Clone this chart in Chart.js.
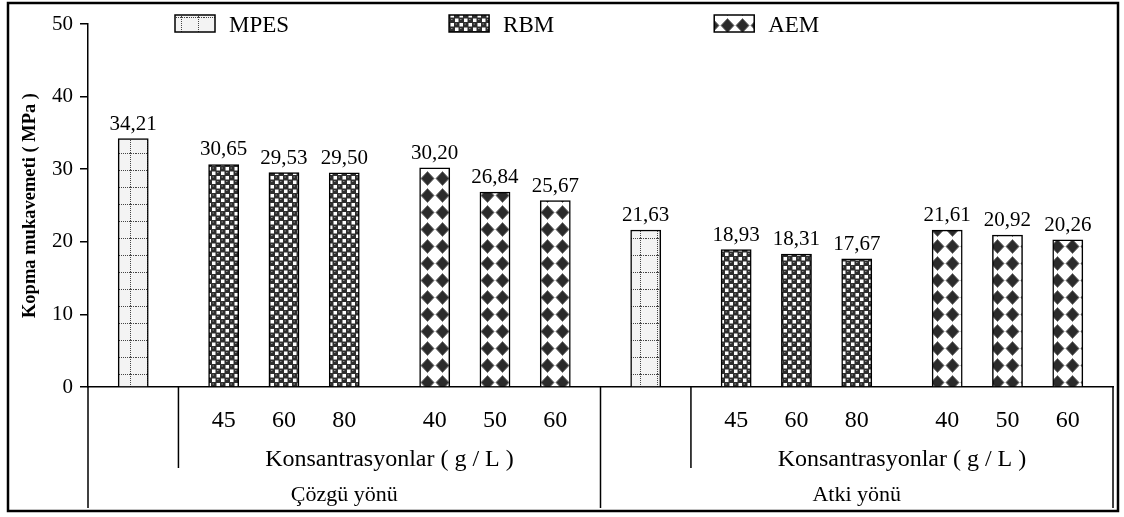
<!DOCTYPE html>
<html>
<head>
<meta charset="utf-8">
<script src="https://cdn.jsdelivr.net/npm/chart.js@4.4.1/dist/chart.umd.min.js"></script>
<style>
  html, body { margin: 0; padding: 0; background: #fff; }
  #wrap { width: 1124px; height: 517px; position: relative; }
</style>
</head>
<body>
<div id="wrap"><canvas id="chart"></canvas></div>
<script>
// values
const directions = ['Çözgü yönü', 'Atki yönü'];
const seriesNames = ['MPES', 'RBM', 'AEM'];
const rbmConcentrations = ['45', '60', '80'];
const aemConcentrations = ['40', '50', '60'];
const mpesValues = [34.21, 21.63];   // warp, weft
const rbmWarp = [30.65, 29.53, 29.50];
const aemWarp = [30.20, 26.84, 25.67];
const rbmWeft = [18.93, 18.31, 17.67];
const aemWeft = [21.61, 20.92, 20.26];
const yTicks = [0, 10, 20, 30, 40, 50];
const axisTitle = 'Kopma mukavemeti ( MPa )';
const groupTitle = 'Konsantrasyonlar ( g / L )';

const FONT = "'Liberation Serif', 'Times New Roman', serif";

// Lay the bars out in slots (empty slots give the gaps between groups)
const rbmByDir = [rbmWarp, rbmWeft];
const aemByDir = [aemWarp, aemWeft];
const labels = [], mpesData = [], rbmData = [], aemData = [];
const addSlot = (label, m, r, a) => { labels.push(label); mpesData.push(m); rbmData.push(r); aemData.push(a); };
const addGap = n => { for (let i = 0; i < n; i++) addSlot('', null, null, null); };
const dirStarts = [];
directions.forEach((dir, di) => {
    dirStarts.push(labels.length);
    addGap(1);
    addSlot('', mpesValues[di], null, null);
    addGap(2);
    rbmConcentrations.forEach((c, i) => { if (i) addGap(1); addSlot(c, null, rbmByDir[di][i], null); });
    addGap(2);
    aemConcentrations.forEach((c, i) => { if (i) addGap(1); addSlot(c, null, null, aemByDir[di][i]); });
    addGap(1);
});
const slotsPerDir = labels.length / directions.length;

// Hatch patterns
function makePattern(w, h, draw) {
    const c = document.createElement('canvas');
    c.width = w; c.height = h;
    const g = c.getContext('2d');
    draw(g);
    return g.createPattern(c, 'repeat');
}
const mpesPattern = makePattern(17, 17, g => {
    g.fillStyle = '#f3f3f3'; g.fillRect(0, 0, 17, 17);
    g.fillStyle = '#444';
    for (let i = 0; i < 17; i += 2) { g.fillRect(i, 0, 1, 1); g.fillRect(11, i, 1, 1); }
});
const rbmPattern = makePattern(9, 9, g => {
    g.fillStyle = '#2e2e2e'; g.fillRect(0, 0, 9, 9);
    g.fillStyle = '#fff';
    g.fillRect(5, 0.5, 3.5, 3.5);
    g.fillRect(0.5, 5, 3.5, 3.5);
    g.fillStyle = '#8c8c8c';
    g.fillRect(1, 1, 1.5, 1);
    g.fillRect(5.5, 5.5, 1.5, 1);
});
const aemPattern = makePattern(15, 17, g => {
    g.fillStyle = '#fff'; g.fillRect(0, 0, 15, 17);
    g.fillStyle = '#2b2b2b';
    g.beginPath();
    g.moveTo(7.5, 1.5); g.lineTo(14, 8.5); g.lineTo(7.5, 15.5); g.lineTo(1, 8.5); g.closePath();
    g.fill();
    g.strokeStyle = '#777'; g.lineWidth = 1; g.lineJoin = 'round'; g.stroke();
});
const patterns = [mpesPattern, rbmPattern, aemPattern];

const fmt = v => v.toFixed(2).replace('.', ',');

const figurePlugin = {
    id: 'figure',
    beforeDraw(chart) {
        const { ctx, width, height } = chart;
        ctx.save();
        ctx.fillStyle = '#fff';
        ctx.fillRect(0, 0, width, height);
        ctx.restore();
    },
    afterDatasetsDraw(chart) {
        const { ctx } = chart;
        ctx.save();
        ctx.fillStyle = '#000';
        ctx.font = '21px ' + FONT;
        ctx.textAlign = 'center';
        ctx.textBaseline = 'alphabetic';
        chart.data.datasets.forEach((ds, i) => {
            chart.getDatasetMeta(i).data.forEach((bar, j) => {
                const v = ds.data[j];
                if (v == null) return;
                ctx.fillText(fmt(v), bar.x, bar.y - 9);
            });
        });
        ctx.restore();
    },
    afterDraw(chart) {
        const { ctx, chartArea: ca, scales: { x } } = chart;
        const slotW = x.width / labels.length;
        const bx = b => x.left + b * slotW;
        const axisY = ca.bottom;
        ctx.save();
        ctx.strokeStyle = '#000';
        ctx.fillStyle = '#000';
        // frame
        ctx.lineWidth = 2.5;
        ctx.strokeRect(8, 3, 1110, 508);
        // table lines under the axis
        ctx.lineWidth = 1.5;
        const line = (x0, y0, x1, y1) => { ctx.beginPath(); ctx.moveTo(x0, y0); ctx.lineTo(x1, y1); ctx.stroke(); };
        dirStarts.forEach(s => {
            line(bx(s), axisY, bx(s), 508);
            line(bx(s + 3), axisY, bx(s + 3), 468);
        });
        line(bx(labels.length), axisY, bx(labels.length), 508);
        // row texts
        ctx.textAlign = 'center';
        ctx.textBaseline = 'middle';
        dirStarts.forEach((s, di) => {
            ctx.font = '24px ' + FONT;
            ctx.fillText(groupTitle, (bx(s + 3) + bx(s + slotsPerDir)) / 2, 460);
            ctx.font = '22px ' + FONT;
            ctx.fillText(directions[di], (bx(s) + bx(s + slotsPerDir)) / 2, 495);
        });
        // legend
        ctx.font = '23px ' + FONT;
        ctx.textAlign = 'left';
        let lx = 175;
        seriesNames.forEach((name, i) => {
            ctx.fillStyle = patterns[i];
            ctx.fillRect(lx, 15, 40, 17);
            ctx.lineWidth = 1.5;
            ctx.strokeRect(lx, 15, 40, 17);
            ctx.fillStyle = '#000';
            ctx.fillText(name, lx + 54, 26);
            lx += 54 + ctx.measureText(name).width + 160;
        });
        ctx.restore();
    }
};

const common = { borderColor: '#000', borderWidth: 1.5, grouped: false, skipNull: true, categoryPercentage: 1, barPercentage: 1 };

new Chart(document.getElementById('chart'), {
    type: 'bar',
    data: {
        labels: labels,
        datasets: [
            { label: seriesNames[0], data: mpesData, backgroundColor: mpesPattern, ...common },
            { label: seriesNames[1], data: rbmData, backgroundColor: rbmPattern, ...common },
            { label: seriesNames[2], data: aemData, backgroundColor: aemPattern, ...common }
        ]
    },
    options: {
        responsive: true,
        maintainAspectRatio: false,
        animation: false,
        layout: { padding: { left: 0, top: 24, right: 11, bottom: 0 } },
        plugins: { legend: { display: false }, tooltip: { enabled: false } },
        scales: {
            x: {
                type: 'category',
                offset: true,
                grid: { display: false, drawTicks: false },
                border: { display: true, color: '#000', width: 1.5 },
                ticks: { autoSkip: false, maxRotation: 0, minRotation: 0, padding: 19, color: '#000', font: { family: FONT, size: 24 } },
                afterFit: s => { s.height = 130; }
            },
            y: {
                min: yTicks[0],
                max: yTicks[yTicks.length - 1],
                afterBuildTicks: s => { s.ticks = yTicks.map(v => ({ value: v })); },
                ticks: { padding: 7, color: '#000', font: { family: FONT, size: 21 } },
                grid: { drawOnChartArea: false, drawTicks: true, tickLength: 8, color: '#000', lineWidth: 1.5 },
                border: { display: true, color: '#000', width: 1.5 },
                title: {
                    display: true, text: axisTitle, color: '#000',
                    font: { family: FONT, size: 18.5, weight: 'bold' },
                    padding: { top: 19, bottom: 0 }
                },
                afterFit: s => { s.width = 88; }
            }
        }
    },
    plugins: [figurePlugin]
});
</script>
</body>
</html>
